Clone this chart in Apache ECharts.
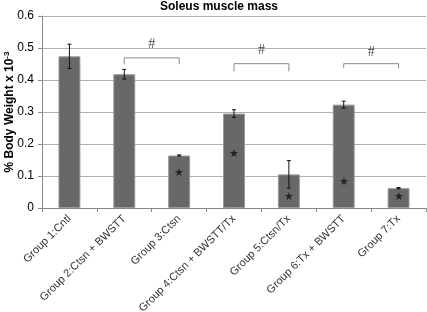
<!DOCTYPE html>
<html>
<head>
<meta charset="utf-8">
<script src="https://cdn.jsdelivr.net/npm/echarts@6/dist/echarts.min.js"></script>
<style>
  html, body { margin: 0; padding: 0; background: #fff; }
  #chart { width: 427px; height: 312px; }
</style>
</head>
<body>
<div id="chart"></div>
<script>
// groups and values
const groups = ['Group 1:Cntl', 'Group 2:Ctsn + BWSTT', 'Group 3:Ctsn', 'Group 4:Ctsn + BWSTT/Tx',
  'Group 5:Ctsn/Tx', 'Group 6:Tx + BWSTT', 'Group 7:Tx']
const means = [0.474, 0.418, 0.164, 0.295, 0.105, 0.323, 0.062]
const errors = [0.038, 0.015, 0.002, 0.012, 0.043, 0.011, 0.002]
// asterisks inside the bars: [group index, y]
const stars = [[2, 0.111], [3, 0.168], [4, 0.034], [5, 0.081], [6, 0.034]]
// brackets: [from group, to group, top y, end y]
const brackets = [[1, 2, 0.469, 0.449], [3, 4, 0.451, 0.427], [5, 6, 0.451, 0.437]]
// '#' marks: [x position, y]
const hashes = [[1.5, 0.511], [3.5, 0.493], [5.5, 0.488]]

const chart = echarts.init(document.getElementById('chart'))

const bracketSeries = brackets.map(b => ({
  type: 'line',
  xAxisIndex: 1,
  symbol: 'none',
  silent: true,
  lineStyle: { color: '#8a8a8a', width: 1 },
  data: [[b[0], b[3]], [b[0], b[2]], [b[1], b[2]], [b[1], b[3]]]
}))

chart.setOption({
  animation: false,
  title: {
    text: 'Soleus muscle mass',
    left: 214,
    top: -4,
    textAlign: 'center',
    textStyle: { fontFamily: 'Liberation Sans', fontSize: 12, fontWeight: 'bold', color: '#000' }
  },
  grid: { left: 42, right: 1, top: 16, bottom: 104, outerBoundsMode: 'none', containLabel: false },
  xAxis: [
    {
      type: 'category',
      data: groups,
      axisLine: { lineStyle: { color: '#888' } },
      axisTick: { show: true, length: 4, lineStyle: { color: '#888' } },
      axisLabel: {
        rotate: 45,
        interval: 0,
        margin: 9,
        fontFamily: 'Liberation Sans',
        fontSize: 11,
        color: '#333'
      }
    },
    { type: 'value', min: -0.5, max: 6.5, show: false }
  ],
  yAxis: {
    type: 'value',
    min: 0,
    max: 0.6,
    interval: 0.1,
    name: '% Body Weight x 10{sup|-3}',
    nameLocation: 'middle',
    nameRotate: 90,
    nameGap: 25,
    nameMoveOverlap: false,
    nameTextStyle: {
      fontFamily: 'Liberation Sans',
      fontSize: 12,
      fontWeight: 'bold',
      color: '#000',
      rich: {
        sup: { fontFamily: 'Liberation Sans', fontSize: 8, fontWeight: 'bold', color: '#000', verticalAlign: 'top', padding: [0, 0, 6, 0] }
      }
    },
    axisLine: { show: true, onZero: false, lineStyle: { color: '#888' } },
    axisTick: { show: true, length: 4, lineStyle: { color: '#888' } },
    splitLine: { lineStyle: { color: '#b0b0b0' } },
    axisLabel: {
      fontFamily: 'Liberation Sans',
      fontSize: 12,
      color: '#000',
      margin: 8,
      formatter: v => (v === 0 ? '0' : v.toFixed(1))
    }
  },
  series: [
    {
      type: 'bar',
      data: means,
      barWidth: '40%',
      itemStyle: { color: '#686868', borderColor: '#9a9a9a', borderWidth: 1 }
    },
    {
      type: 'custom',
      xAxisIndex: 1,
      data: means.map((m, i) => [i, m - errors[i], m + errors[i]]),
      renderItem: (params, api) => {
        const lo = api.coord([api.value(0), api.value(1)])
        const hi = api.coord([api.value(0), api.value(2)])
        const cap = 2
        const style = { stroke: '#111', lineWidth: 1 }
        return {
          type: 'group',
          children: [
            { type: 'line', shape: { x1: hi[0], y1: hi[1], x2: lo[0], y2: lo[1] }, style },
            { type: 'line', shape: { x1: hi[0] - cap, y1: hi[1], x2: hi[0] + cap, y2: hi[1] }, style },
            { type: 'line', shape: { x1: lo[0] - cap, y1: lo[1], x2: lo[0] + cap, y2: lo[1] }, style }
          ]
        }
      },
      z: 5
    },
    {
      type: 'scatter',
      xAxisIndex: 1,
      data: stars,
      symbolSize: 0,
      label: {
        show: true,
        position: 'inside',
        formatter: '★',
        fontSize: 11,
        color: '#111'
      },
      z: 6
    },
    {
      type: 'scatter',
      xAxisIndex: 1,
      data: hashes,
      symbolSize: 0,
      label: {
        show: true,
        position: 'inside',
        formatter: '#',
        fontFamily: 'Liberation Serif',
        fontSize: 14,
        color: '#111'
      }
    },
    ...bracketSeries
  ]
})
</script>
</body>
</html>
